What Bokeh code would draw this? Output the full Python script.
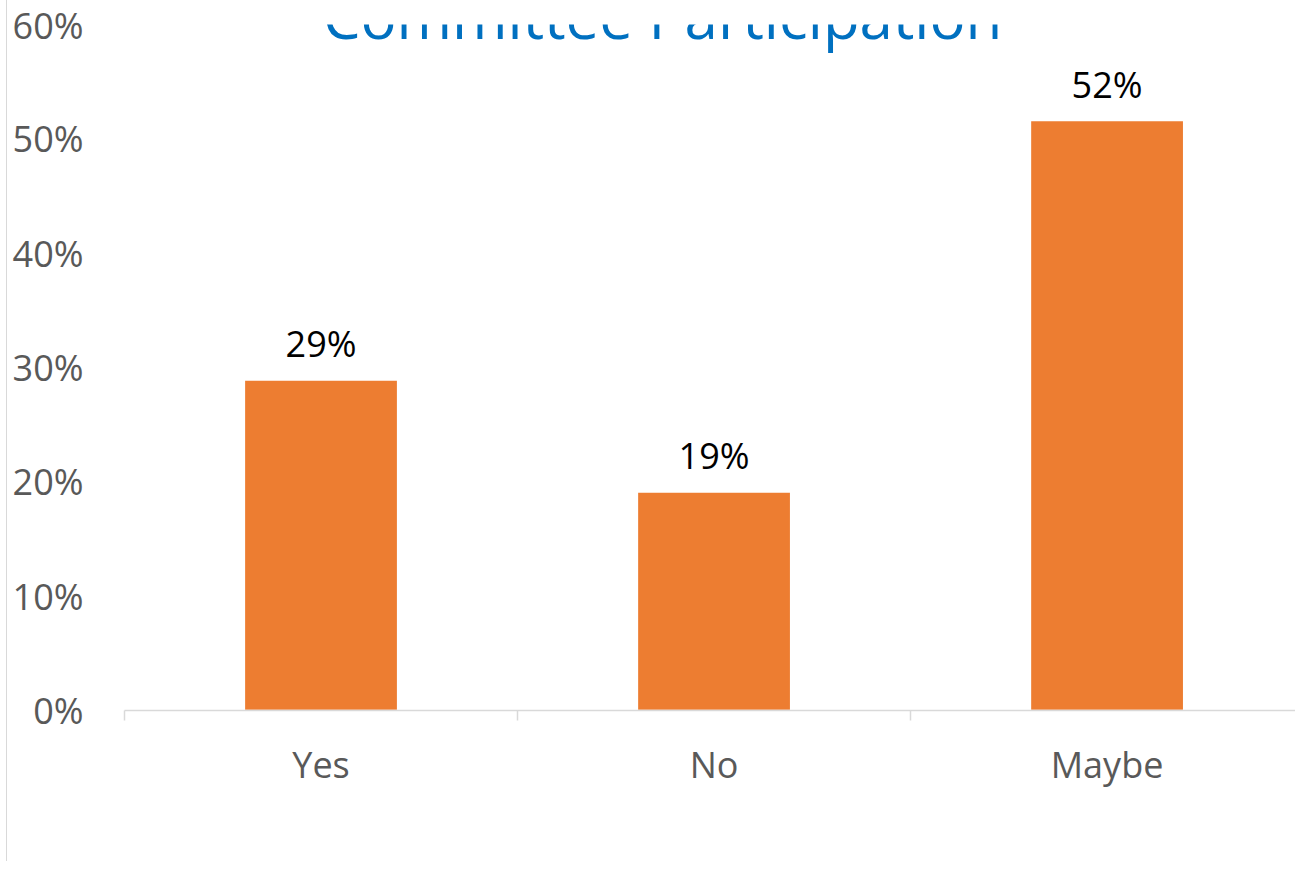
from bokeh.plotting import figure
from bokeh.models import (ColumnDataSource, Range1d, LinearAxis, FixedTicker,
                          NumeralTickFormatter, LabelSet, Label)
from bokeh.core.properties import value
from bokeh.embed import file_html
from bokeh.resources import INLINE

# ---- data ----
categories = ["Yes", "No", "Maybe"]
shares = [0.289, 0.191, 0.516]
y_ticks = [0.0, 0.1, 0.2, 0.3, 0.4, 0.5, 0.6]
title_text = "Committee Participation"

FONT = "Open Sans"
GREY = "#595959"
LINE = "#D9D9D9"

xs = [i + 0.5 for i in range(len(categories))]
labels = [f"{round(v * 100):.0f}%" for v in shares]
src = ColumnDataSource(dict(x=xs, y=shares, cat=categories, lab=labels))

W, H = 1289, 861
p = figure(width=W, height=H, output_backend="svg", toolbar_location=None,
           x_range=Range1d(0, 2.982), y_range=Range1d(0, 0.6),
           x_axis_type=None, y_axis_type=None,
           min_border_left=117, min_border_right=0, min_border_top=24,
           min_border_bottom=151)
p.outline_line_color = None
p.background_fill_color = "white"
p.border_fill_color = "white"
# chart-area border on the left
p.styles = {"margin-left": "6px", "border-left": "1px solid #D9D9D9"}

# y axis
yax = LinearAxis(ticker=FixedTicker(ticks=y_ticks),
                 formatter=NumeralTickFormatter(format="0%"))
yax.axis_line_color = None
yax.major_tick_line_color = None
yax.minor_tick_line_color = None
yax.major_tick_out = 0
yax.major_label_standoff = 41
yax.major_label_text_font = FONT
yax.major_label_text_font_size = "36px"
yax.major_label_text_color = GREY
p.add_layout(yax, "left")

# x axis: labels at centres, tick marks at category boundaries
xax = LinearAxis(ticker=FixedTicker(ticks=xs, minor_ticks=list(range(len(categories) + 1))))
xax.major_label_overrides = {x: c for x, c in zip(xs, categories)}
xax.axis_line_color = LINE
xax.axis_line_width = 1.5
xax.major_tick_line_color = None
xax.major_tick_out = 0
xax.major_tick_in = 0
xax.minor_tick_line_color = LINE
xax.minor_tick_line_width = 1.5
xax.minor_tick_out = 10
xax.minor_tick_in = 0
xax.major_label_standoff = 19
xax.major_label_text_font = FONT
xax.major_label_text_font_size = "36px"
xax.major_label_text_color = GREY
p.add_layout(xax, "below")

p.ygrid.ticker = FixedTicker(ticks=y_ticks)
p.ygrid.grid_line_color = LINE
p.ygrid.grid_line_width = 1.5
p.xgrid.visible = False

p.vbar(x="x", top="y", bottom=0, width=0.39, source=src,
       fill_color="#ED7D31", line_color="white", line_width=1.5)

p.add_layout(LabelSet(x="x", y="y", text="lab", source=src, y_offset=23,
                      text_align="center", text_baseline="alphabetic",
                      text_font=value(FONT), text_font_size="36px",
                      text_color="#000000"))

# title: partly above the top edge, as in the reference
p.add_layout(Label(x=538, y=0.6, x_units="screen", y_units="data", y_offset=9,
                   text=title_text, text_align="center", text_baseline="alphabetic",
                   text_font=FONT, text_font_size="60px",
                   text_color="#0070C0"))

open("out.html", "w").write(file_html(p, INLINE))
